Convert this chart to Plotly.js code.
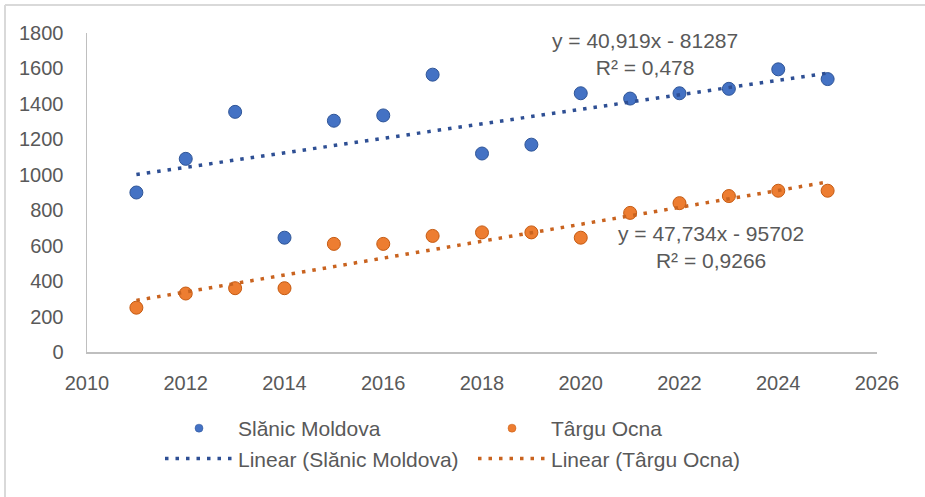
<!DOCTYPE html>
<html>
<head>
<meta charset="utf-8">
<script src="https://cdn.plot.ly/plotly-3.0.1.min.js"></script>
<style>html,body{margin:0;padding:0;background:#fff;}#chart{width:925px;height:497px;}</style>
</head>
<body>
<div id="chart"></div>
<script>
const years = [2011, 2012, 2013, 2014, 2015, 2016, 2017, 2018, 2019, 2020, 2021, 2022, 2023, 2024, 2025];
const slanicMoldova = [900, 1090, 1355, 645, 1305, 1335, 1565, 1120, 1170, 1460, 1430, 1460, 1485, 1595, 1540];
const targuOcna = [250, 330, 360, 360, 610, 610, 655, 675, 675, 645, 785, 840, 880, 910, 910];
const seriesNames = ['Slănic Moldova', 'Târgu Ocna'];
const trendSlopes = [40.919, 47.734];
const trendIntercepts = [-81287, -95702];
const trendLabels = ['y = 40,919x - 81287<br>R² = 0,478', 'y = 47,734x - 95702<br>R² = 0,9266'];
const xTicks = [2010, 2012, 2014, 2016, 2018, 2020, 2022, 2024, 2026];
const yTicks = [0, 200, 400, 600, 800, 1000, 1200, 1400, 1600, 1800];

const markerColors = ['#4472C4', '#ED7D31'];
const markerLines = ['#2F5597', '#C55A11'];
const trendColors = ['#2E4F94', '#C9631F'];
const font = 'Liberation Sans, Arial, sans-serif';
const textColor = '#595959';

const xEnds = [years[0], years[years.length - 1]];
const trendY = (i) => xEnds.map(x => trendSlopes[i] * x + trendIntercepts[i]);

const traces = [
  {x: years, y: slanicMoldova, name: seriesNames[0], type: 'scatter', mode: 'markers', showlegend: false,
   marker: {size: 13, color: markerColors[0], line: {color: markerLines[0], width: 1}}},
  {x: years, y: targuOcna, name: seriesNames[1], type: 'scatter', mode: 'markers', showlegend: false,
   marker: {size: 13, color: markerColors[1], line: {color: markerLines[1], width: 1}}},
  // legend entries with the smaller legend marker of the original
  {x: [null], y: [null], name: seriesNames[0], type: 'scatter', mode: 'markers',
   marker: {size: 8, color: markerColors[0], line: {color: markerLines[0], width: 0.5}}},
  {x: [null], y: [null], name: seriesNames[1], type: 'scatter', mode: 'markers',
   marker: {size: 8, color: markerColors[1], line: {color: markerLines[1], width: 0.5}}},
  {x: xEnds, y: trendY(0), name: 'Linear (' + seriesNames[0] + ')', type: 'scatter', mode: 'lines',
   line: {color: trendColors[0], width: 3.5, dash: '3.5px,7px'}},
  {x: xEnds, y: trendY(1), name: 'Linear (' + seriesNames[1] + ')', type: 'scatter', mode: 'lines',
   line: {color: trendColors[1], width: 3.5, dash: '3.5px,7px'}}
];

const L = 87, R = 877, T = 33, B = 352;
const px = (v) => (v - L) / (R - L);
const py = (v) => (B - v) / (B - T);

const layout = {
  width: 925, height: 497,
  margin: {l: L, r: 925 - R, t: T, b: 497 - B, pad: 0},
  paper_bgcolor: '#fff', plot_bgcolor: '#fff',
  font: {family: font, color: textColor, size: 20},
  showlegend: true,
  xaxis: {range: [2010, 2026], tickvals: xTicks, ticktext: xTicks.map(String), showgrid: false, zeroline: false,
          showline: true, linecolor: '#bfbfbf', linewidth: 1.5, ticks: '', ticklabelstandoff: 12,
          tickfont: {size: 20, color: textColor}},
  yaxis: {range: [0, 1800], tickvals: yTicks, ticktext: yTicks.map(String), showgrid: false, zeroline: false,
          showline: true, linecolor: '#bfbfbf', linewidth: 1.5, ticks: '', ticklabelstandoff: 18,
          tickfont: {size: 20, color: textColor}},
  legend: {orientation: 'h', x: px(160), xanchor: 'left', y: py(408), yanchor: 'top',
           itemwidth: 68, entrywidth: 230, font: {size: 21, color: textColor}, bgcolor: 'rgba(0,0,0,0)'},
  annotations: [
    {xref: 'paper', yref: 'paper', x: px(645), y: py(54), text: trendLabels[0], showarrow: false,
     font: {size: 21, color: textColor}, align: 'center', xanchor: 'center', yanchor: 'middle'},
    {xref: 'paper', yref: 'paper', x: px(711), y: py(247), text: trendLabels[1], showarrow: false,
     font: {size: 21, color: textColor}, align: 'center', xanchor: 'center', yanchor: 'middle'}
  ],
  shapes: [
    {type: 'line', xref: 'paper', yref: 'paper', x0: px(5), x1: px(925), y0: py(5), y1: py(5),
     line: {color: '#d9d9d9', width: 2}},
    {type: 'line', xref: 'paper', yref: 'paper', x0: px(5), x1: px(5), y0: py(5), y1: py(497),
     line: {color: '#d9d9d9', width: 2}}
  ]
};

Plotly.newPlot('chart', traces, layout, {displayModeBar: false, staticPlot: true});
</script>
</body>
</html>
